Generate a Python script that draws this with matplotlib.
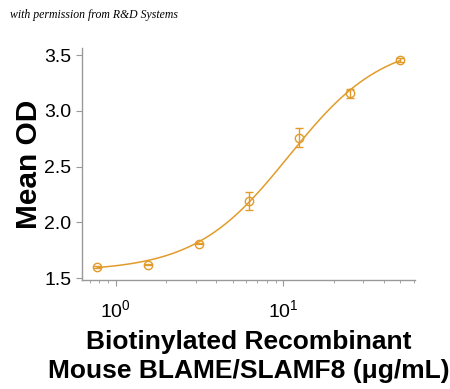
import numpy as np
import matplotlib
matplotlib.use("Agg")
import matplotlib.pyplot as plt
from matplotlib.ticker import LogLocator, NullFormatter

# Данные (концентрация, мкг/мл) и средняя OD
conc = [0.78, 1.56, 3.125, 6.25, 12.5, 25, 50]
mean_od = [1.596, 1.62, 1.81, 2.19, 2.76, 3.16, 3.455]
od_err = [0.01, 0.005, 0.005, 0.08, 0.085, 0.04, 0.018]

# Параметры 4PL-кривой, оценённые по графику
bottom, top, ec50, hill = 1.56, 3.63, 10.8, 1.55

color = '#E29B2B'
plt.rcParams['font.family'] = ['Liberation Sans', 'DejaVu Sans']

fig = plt.figure(figsize=(4.5, 3.89), dpi=100)
ax = fig.add_axes([0.182, 0.280, 0.740, 0.596])

xs = np.logspace(np.log10(0.78), np.log10(50), 300)
curve = bottom + (top - bottom) / (1 + (ec50 / xs) ** hill)
ax.plot(xs, curve, color=color, lw=1.1)
ax.errorbar(conc, mean_od, yerr=od_err, fmt='o', mfc='none', mec=color,
            ecolor=color, ms=6, mew=1.0, elinewidth=1.0, capsize=3, capthick=1.0)

ax.set_xscale('log')
ax.set_xlim(0.63, 61)
ax.set_ylim(1.482, 3.563)
ax.set_yticks([1.5, 2.0, 2.5, 3.0, 3.5])
ax.set_yticklabels(['1.5', '2.0', '2.5', '3.0', '3.5'])
ax.xaxis.set_minor_locator(LogLocator(base=10, subs=np.arange(2, 10)))
ax.xaxis.set_minor_formatter(NullFormatter())

for s in ['top', 'right']:
    ax.spines[s].set_visible(False)
for s in ['left', 'bottom']:
    ax.spines[s].set_color('#999999')
    ax.spines[s].set_linewidth(1.0)
ax.tick_params(axis='both', which='major', colors='#999999', labelcolor='black',
               labelsize=14, length=4)
ax.tick_params(axis='x', which='minor', colors='#999999', length=2.5)
ax.tick_params(axis='x', which='major', pad=10)

ax.set_ylabel('Mean OD', fontsize=21.5, fontweight='bold', labelpad=1)
ax.set_xlabel('Biotinylated Recombinant\nMouse BLAME/SLAMF8 (\u03bcg/mL)',
              fontsize=19, fontweight='bold', linespacing=1.25, labelpad=6)

fig.text(0.022, 0.955, 'with permission from R&D Systems', fontsize=8.5,
         style='italic', family='Liberation Serif')

fig.savefig('out.png', dpi=100)
